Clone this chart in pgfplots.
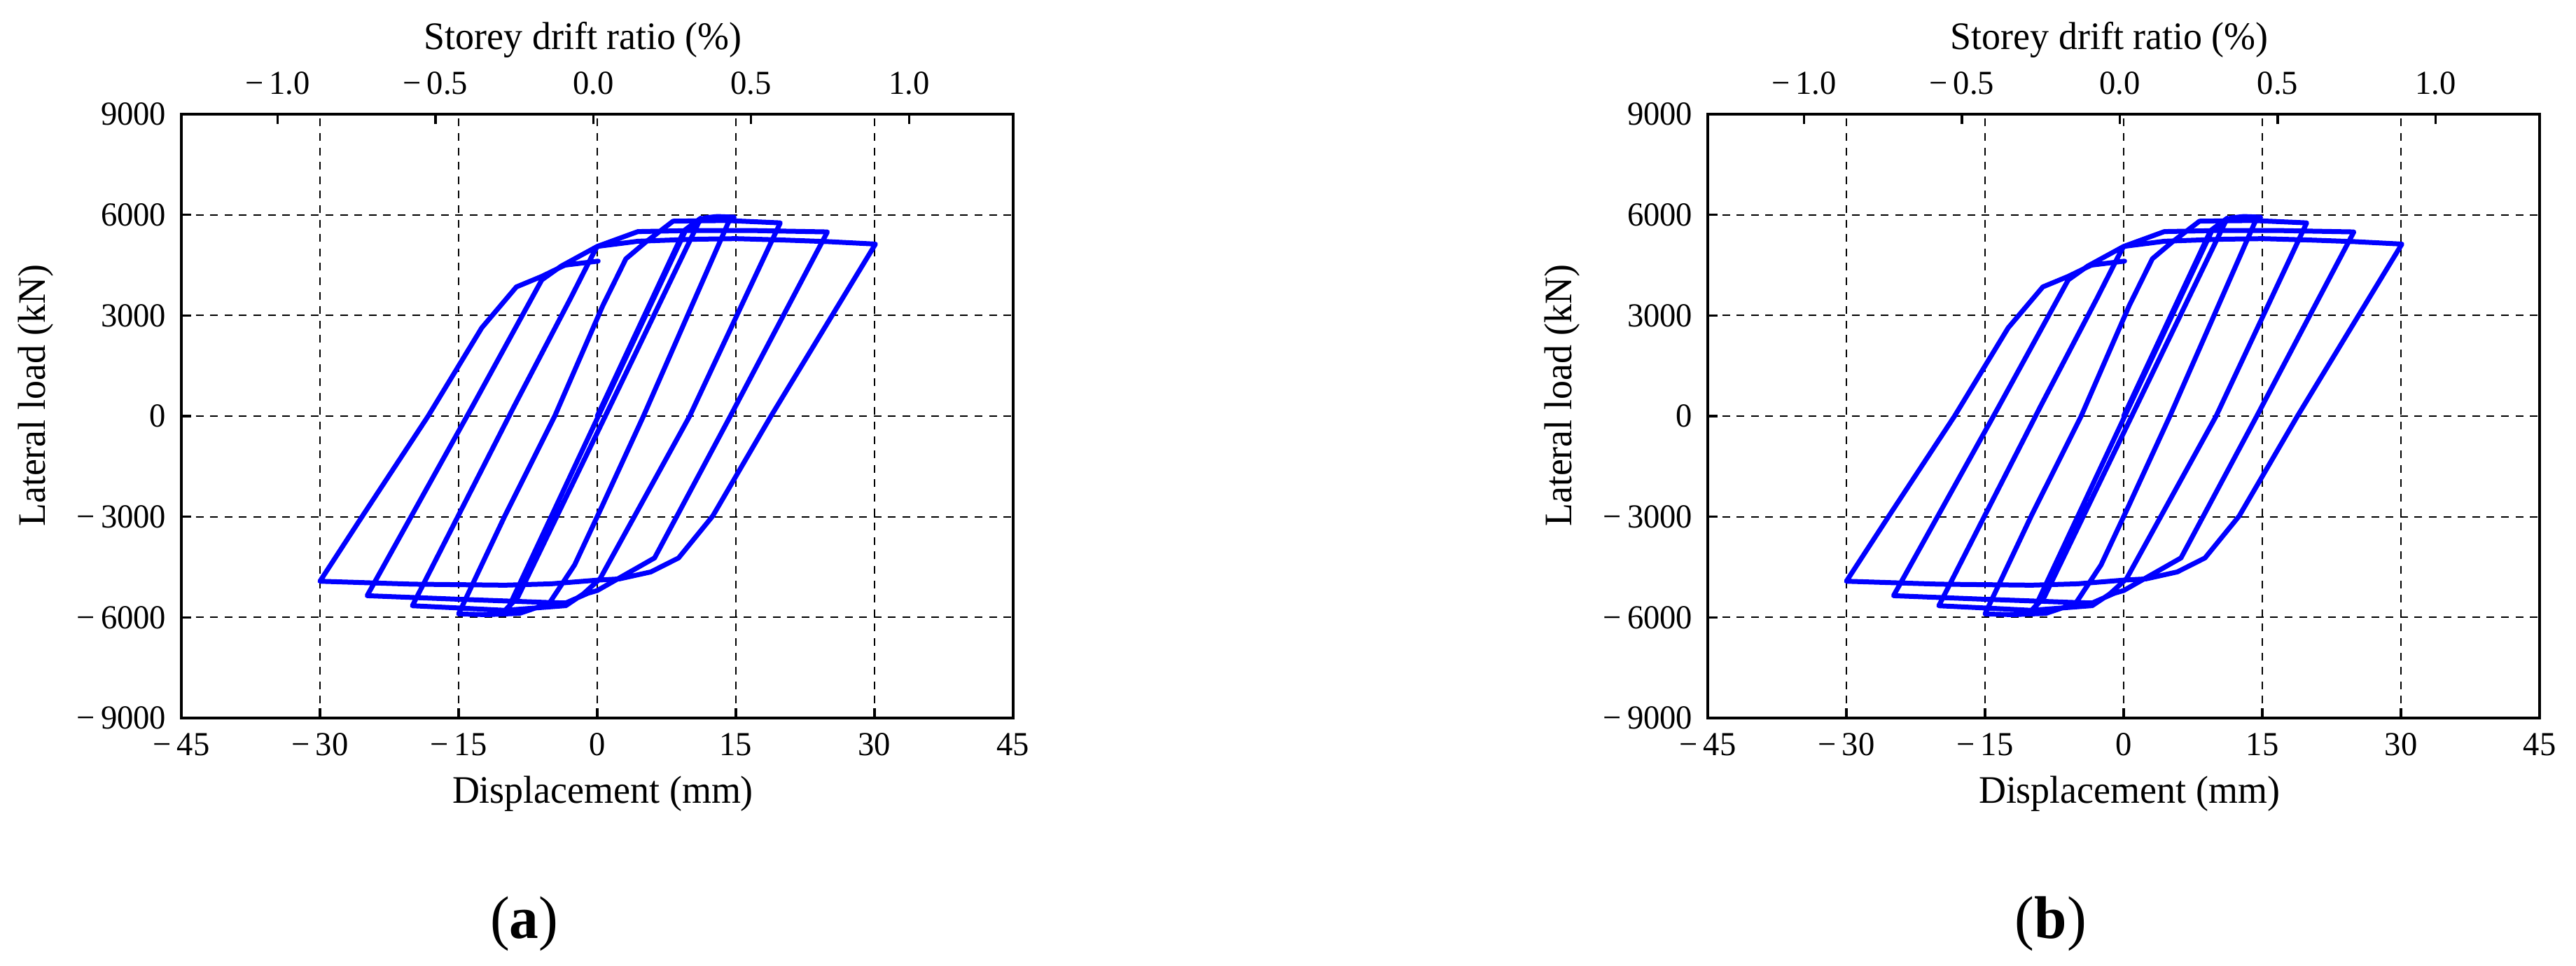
\documentclass[border=0pt]{standalone}
\usepackage{fontspec}
\setmainfont{Liberation Serif}[FakeStretch=0.97]
\usepackage{pgfplots}
\pgfplotsset{compat=1.18}
\usepackage{pgfplotstable}

% lateral load (kN) against displacement (mm), one continuous path
\pgfplotstableread{
d F
0 0
9.4 5530
11.2 5900
0.87 0
-8.6 -5400
-10.3 -5890
-9.5 -5650
0.12 0
9.6 5560
11.6 5910
13.0 5950
14.8 5930
14.2 5780
5.0 0
0.5 -2700
-2.45 -4436
-5.2 -5583
-8.4 -5880
-12.0 -5920
-15.0 -5896
-12.8 -4609
-10.0 -2976
-4.6 0
0.6 3293
3.1 4689
5.2 5177
8.2 5810
14.0 5830
19.8 5760
10.0 0
0.3 -4850
-1.5 -5300
-3.4 -5650
-10.0 -5790
-15.0 -5720
-20.0 -5653
-15.05 -2976
-9.0 290
-2.9 3504
-0.6 4754
0.0 5058
4.4 5500
10.0 5530
17.0 5530
24.9 5490
14.4 0
6.2 -4228
0.0 -5200
-1.0 -5280
-3.4 -5570
-5.0 -5560
-15.0 -5460
-24.9 -5354
-20.1 -2976
-13.5 292
-6.0 4060
-3.9 4471
0.0 5058
4.4 5212
10.2 5270
15.0 5290
20.0 5250
25.0 5200
30.1 5128
18.8 0
12.5 -2976
8.8 -4228
5.8 -4645
2.4 -4853
0.0 -4890
-5.0 -5000
-10.0 -5040
-20.0 -5010
-30.0 -4923
-25.4 -2976
-18.3 0
-12.5 2630
-8.75 3851
-6.0 4165
-3.5 4500
0.1 4620
}\hystA

\pgfplotsset{
  panel/.style={
    scale only axis, width=297pt, height=215.5pt, anchor=south west,
  },
  main/.style={
    panel,
    xmin=-45, xmax=45, ymin=-9000, ymax=9000,
    xtick={-45,-30,...,45}, ytick={-9000,-6000,...,9000},
    xticklabels={−\,45,−\,30,−\,15,0,15,30,45},
    yticklabels={−\,9000,−\,6000,−\,3000,0,3000,6000,9000},
    xtick pos=bottom, ytick pos=left,
    tick align=inside, major tick length=3.5pt,
    tick style={black, line width=0.83pt},
    axis line style={black, line width=0.83pt},
    grid=major,
    major grid style={black, line width=0.5pt, dash pattern=on 2.75pt off 2.4pt},
    tick label style={font=\fontsize{12}{14}\selectfont, inner sep=0pt},
    xticklabel style={anchor=center, yshift=-9.5pt},
    yticklabel style={anchor=east, xshift=-5.25pt},
    label style={font=\fontsize{13.9}{16}\selectfont, inner sep=0pt},
    xlabel={Displacement (mm)},
    xlabel style={at={(axis description cs:0.5067,-0.1411)}, anchor=base},
    ylabel={Lateral load (kN)},
    ylabel style={at={(axis description cs:-0.175,0.534)}, anchor=center},
    title={Storey drift ratio (\%)},
    every axis title shift=0pt,
    title style={at={(axis description cs:0.483,1.1225)}, anchor=center,
      font=\fontsize{13.9}{16}\selectfont, inner sep=0pt},
  },
  drift/.style={
    panel,
    xmin=-1.305, xmax=1.330, ymin=0, ymax=1,
    axis x line*=top, hide y axis,
    axis line style={black, line width=0.83pt, -},
    xtick={-1,-0.5,0,0.5,1},
    xticklabels={−\,1.0,−\,0.5,0.0,0.5,1.0},
    xtick align=inside, major tick length=3.5pt,
    tick style={black, line width=0.83pt},
    xticklabel style={font=\fontsize{12}{14}\selectfont, inner sep=0pt,
      anchor=center, yshift=10.9pt},
  },
  hyst/.style={blue, line width=1.75pt, line join=round, line cap=round, mark=none},
}

\begin{document}
\begin{tikzpicture}
\useasboundingbox (0,0) rectangle (919.75pt,344.75pt);

% panel (a)
\begin{axis}[main, at={(64.75pt,88.5pt)}]
\addplot[hyst] table[x=d, y=F] {\hystA};
\end{axis}
\begin{axis}[drift, at={(64.75pt,88.5pt)}]
\end{axis}
\node[font=\fontsize{21.5}{24}\selectfont, anchor=base, inner sep=0pt]
  at (187.2pt,9.75pt) {(\textbf{a})};

% panel (b)
\begin{axis}[main, at={(609.75pt,88.5pt)}]
\addplot[hyst] table[x=d, y=F] {\hystA};
\end{axis}
\begin{axis}[drift, at={(609.75pt,88.5pt)}]
\end{axis}
\node[font=\fontsize{21.5}{24}\selectfont, anchor=base, inner sep=0pt]
  at (732.2pt,9.75pt) {(\textbf{b})};
\end{tikzpicture}
\end{document}
